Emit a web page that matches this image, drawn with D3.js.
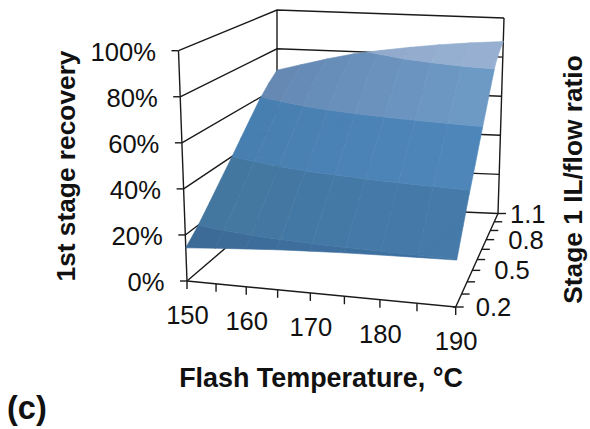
<!DOCTYPE html>
<html>
<head>
<meta charset="utf-8">
<script src="https://cdn.jsdelivr.net/npm/d3@7"></script>
<style>
  html, body { margin: 0; background: #fff; }
  text { font-family: "Liberation Sans", Arial, sans-serif; fill: #111; }
  .tick-label { font-size: 25.6px; }
  .title { font-size: 26.3px; font-weight: bold; }
</style>
</head>
<body>
<svg class="chart" width="590" height="429"></svg>
<script>
const temps = [150, 155, 160, 165, 170, 175, 180, 185, 190]
const ratios = [0.2, 0.3, 0.4, 0.5, 0.6, 0.7, 0.8, 0.9, 1.0, 1.1]
const tempLabels = [150, 160, 170, 180, 190]
const ratioLabels = [0.2, 0.5, 0.8, 1.1]
const ratioLabelDx = [20, 22, 22, 12]
const recoveryTicks = [0, 20, 40, 60, 80, 100]

// one row per ratio, one column per temperature
const recovery = [
  [14.4, 15.4, 16.3, 17.2, 17.9, 18.5, 19.0, 19.4, 19.8],
  [19.7, 21.5, 23.2, 24.8, 26.0, 27.1, 28.0, 28.8, 29.5],
  [26.0, 28.3, 30.7, 32.8, 34.3, 35.8, 37.1, 38.1, 39.0],
  [32.5, 35.2, 37.9, 40.3, 42.1, 43.8, 45.3, 46.5, 47.5],
  [39.0, 42.2, 45.3, 48.1, 50.2, 52.1, 53.9, 55.3, 56.5],
  [45.7, 49.2, 52.6, 55.7, 58.1, 60.2, 62.1, 63.6, 65.0],
  [52.4, 56.2, 60.0, 63.4, 65.9, 68.2, 70.3, 72.0, 73.5],
  [59.0, 63.1, 67.1, 70.7, 73.4, 75.9, 78.1, 79.9, 81.5],
  [64.5, 68.3, 72.1, 75.4, 77.9, 80.3, 82.4, 84.0, 85.5],
  [69.0, 72.4, 75.8, 78.9, 81.2, 83.3, 85.2, 86.7, 88.0]
]

// band colours, left side then right side of the surface
const bandLeft = ["#3c6a97", "#44779f", "#477eb0", "#6488b2", "#8aa4c5"]
const bandRight = ["#3f72a3", "#457aaa", "#4e86bb", "#6e9ac6", "#98b1d2"]

const svg = d3.select("svg.chart")

const xScale = d3.scaleLinear().domain([150, 190]).range([0, 1])
const yScale = d3.scaleLinear().domain([0.2, 1.1]).range([0, 1])
const zScale = d3.scaleLinear().domain([0, 100]).range([0, 1])

// maps the unit square onto a quad: p00 front left, p10 front right, p11 back right, p01 back left
function quadMap(p00, p10, p11, p01) {
  const dx1 = p10[0] - p11[0], dx2 = p01[0] - p11[0], sx = p00[0] - p10[0] + p11[0] - p01[0]
  const dy1 = p10[1] - p11[1], dy2 = p01[1] - p11[1], sy = p00[1] - p10[1] + p11[1] - p01[1]
  const den = dx1 * dy2 - dx2 * dy1
  const g = (sx * dy2 - dx2 * sy) / den
  const h = (dx1 * sy - sx * dy1) / den
  const a = p10[0] - p00[0] + g * p10[0], b = p01[0] - p00[0] + h * p01[0]
  const d = p10[1] - p00[1] + g * p10[1], e = p01[1] - p00[1] + h * p01[1]
  return (u, v) => {
    const w = g * u + h * v + 1
    return [(a * u + b * v + p00[0]) / w, (d * u + e * v + p00[1]) / w]
  }
}

const floorMap = quadMap([187, 281], [455.7, 307], [498, 213.5], [277, 204])
const roofMap = quadMap([178.5, 50.7], [461, 70], [504, 18], [277, 10])

function project(u, v, w) {
  const a = floorMap(u, v), b = roofMap(u, v)
  return [a[0] + (b[0] - a[0]) * w, a[1] + (b[1] - a[1]) * w]
}

const lineGen = d3.line()

function drawLine(points) {
  svg.append("path")
    .attr("d", lineGen(points))
    .attr("fill", "none")
    .attr("stroke", "#1a1a1a")
    .attr("stroke-width", 1.4)
}

// walls
recoveryTicks.forEach(t => {
  const w = zScale(t)
  drawLine([project(0, 0, w), project(0, 1, w), project(1, 1, w)])
  const p = project(0, 0, w)
  drawLine([[p[0] - 7, p[1]], p])
  svg.append("text")
    .attr("class", "tick-label")
    .attr("x", p[0] - 22.5)
    .attr("y", p[1] + 10)
    .attr("text-anchor", "end")
    .text(`${t}%`)
})
drawLine([project(0, 0, 0), project(0, 0, 1)])
drawLine([project(0, 1, 0), project(0, 1, 1)])
drawLine([project(1, 1, 0), project(1, 1, 1)])
drawLine([project(0, 0, 0), project(1, 0, 0), project(1, 1, 0)])

// floor ticks
temps.forEach(t => {
  const p = project(xScale(t), 0, 0)
  drawLine([p, [p[0], p[1] + 8]])
})
ratios.forEach((r, i) => {
  const p = project(1, yScale(r), 0)
  drawLine([[p[0] - (i === 0 ? 3 : 0), p[1]], [p[0] + 8, p[1]]])
})
tempLabels.forEach(t => {
  const p = project(xScale(t), 0, 0)
  svg.append("text")
    .attr("class", "tick-label")
    .attr("x", p[0] + 0.5)
    .attr("y", p[1] + 43)
    .attr("text-anchor", "middle")
    .text(t)
})
ratioLabels.forEach((r, i) => {
  const p = project(1, yScale(r), 0)
  svg.append("text")
    .attr("class", "tick-label")
    .attr("x", p[0] + ratioLabelDx[i])
    .attr("y", p[1] + 9)
    .text(r.toFixed(1))
})

// clip a triangle in data space to one recovery band
function clip(poly, test, level) {
  const out = []
  poly.forEach((p, i) => {
    const q = poly[(i + 1) % poly.length]
    const pIn = test(p[2]), qIn = test(q[2])
    if (pIn) out.push(p)
    if (pIn !== qIn) {
      const f = (level - p[2]) / (q[2] - p[2])
      out.push([p[0] + (q[0] - p[0]) * f, p[1] + (q[1] - p[1]) * f, level])
    }
  })
  return out
}

const pieces = []
for (let j = ratios.length - 2; j >= 0; j--) {
  for (let i = 0; i < temps.length - 1; i++) {
    const c = (a, b) => [xScale(temps[a]), yScale(ratios[b]), recovery[b][a]]
    const tris = [
      [c(i, j), c(i + 1, j), c(i + 1, j + 1)],
      [c(i, j), c(i + 1, j + 1), c(i, j + 1)]
    ]
    tris.forEach(tri => {
      recoveryTicks.slice(0, -1).forEach((lo, band) => {
        const hi = recoveryTicks[band + 1]
        let poly = clip(tri, z => z >= lo, lo)
        if (poly.length) poly = clip(poly, z => z <= hi, hi)
        if (poly.length > 2) pieces.push({ poly, band, col: i })
      })
    })
  }
}

// one path per band and column so the inner edges do not show
const patches = d3.flatRollup(pieces, v => v.map(d => d.poly), d => d.band, d => d.col)
  .map(([band, col, polys]) => ({ band, col, polys }))
  .sort((a, b) => a.band - b.band || a.col - b.col)

const patchColor = d => d3.interpolateRgb(bandLeft[d.band], bandRight[d.band])((d.col + 0.5) / (temps.length - 1))

svg.append("g")
  .selectAll("path")
  .data(patches)
  .enter()
  .append("path")
  .attr("d", d => d.polys.map(poly => lineGen(poly.map(p => project(p[0], p[1], zScale(p[2])))) + "Z").join(""))
  .attr("fill", patchColor)
  .attr("stroke", patchColor)
  .attr("stroke-width", 0.6)
  .attr("stroke-linejoin", "round")

// titles
svg.append("text")
  .attr("class", "title")
  .attr("transform", "translate(75, 166) rotate(-90)")
  .attr("text-anchor", "middle")
  .text("1st stage recovery")

svg.append("text")
  .attr("class", "title")
  .attr("transform", "translate(581.5, 179.5) rotate(-90)")
  .attr("text-anchor", "middle")
  .text("Stage 1 IL/flow ratio")

svg.append("text")
  .attr("class", "title")
  .attr("x", 321)
  .attr("y", 387)
  .attr("text-anchor", "middle")
  .style("font-size", "26.9px")
  .text("Flash Temperature, °C")

svg.append("text")
  .attr("class", "title")
  .style("font-size", "32.5px")
  .attr("x", 7)
  .attr("y", 419)
  .text("(c)")
</script>
</body>
</html>
